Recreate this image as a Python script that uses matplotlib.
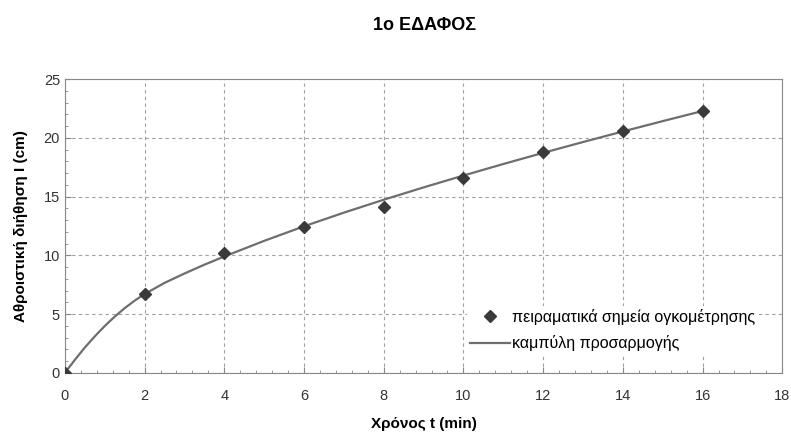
import numpy as np
import matplotlib.pyplot as plt
from matplotlib.ticker import MultipleLocator

plt.rcParams['font.family'] = ['Liberation Sans', 'DejaVu Sans']

t_meas = [0, 2, 4, 6, 8, 10, 12, 14, 16]
I_meas = [0, 6.7, 10.2, 12.4, 14.1, 16.6, 18.8, 20.6, 22.3]

# fitted curve, values
t_fit = [0, 0.25, 0.5, 0.75, 1, 1.25, 1.5, 1.75, 2, 2.5, 3, 3.5, 4, 5, 6, 7, 8,
         9, 10, 11, 12, 13, 14, 15, 16]
I_fit = [0, 1.1, 2.15, 3.1, 3.98, 4.78, 5.5, 6.14, 6.7, 7.65, 8.45, 9.2, 9.9, 11.23,
         12.47, 13.63, 14.73, 15.78, 16.79, 17.77, 18.72, 19.64, 20.54, 21.42, 22.28]

fig = plt.figure(figsize=(7.91, 4.32), dpi=100)
ax = fig.add_axes([0.082, 0.137, 0.907, 0.68])

ax.plot(t_meas, I_meas, 'D', color='#3a3a3a', markersize=6.3, zorder=4,
        label='πειραματικά σημεία ογκομέτρησης')
ax.plot(t_fit, I_fit, '-', color='#6e6e6e', lw=1.6, zorder=3,
        label='καμπύλη προσαρμογής')

ax.set_xlim(0, 18)
ax.set_ylim(0, 25)
ax.xaxis.set_major_locator(MultipleLocator(2))
ax.xaxis.set_minor_locator(MultipleLocator(0.4))
ax.yaxis.set_major_locator(MultipleLocator(5))
ax.yaxis.set_minor_locator(MultipleLocator(1))
ax.tick_params(which='both', direction='in', colors='#888888', labelcolor='#333333',
               labelsize=10.5)
ax.tick_params(which='major', length=4)
ax.tick_params(which='minor', length=2)
ax.tick_params(axis='x', pad=12)
for s in ax.spines.values():
    s.set_color('#888888')

ax.grid(True, which='major', linestyle=(0, (3, 3)), color='#a0a0a0', lw=0.8)

ax.set_xlabel('Χρόνος t (min)', fontsize=11, fontweight='bold', labelpad=10)
ax.set_ylabel('Αθροιστική διήθηση I (cm)', fontsize=11, fontweight='bold', labelpad=11)
fig.suptitle('1ο ΕΔΑΦΟΣ', x=0.537, y=0.96, fontsize=13, fontweight='bold')

leg = ax.legend(loc='lower right', bbox_to_anchor=(0.978, 0.035), fontsize=11.5,
                frameon=True, framealpha=1, edgecolor='none', fancybox=False,
                handlelength=2.5, handletextpad=0.15, borderpad=0.2, labelspacing=0.65)
leg.get_frame().set_facecolor('white')

plt.savefig('out.png', dpi=100)
